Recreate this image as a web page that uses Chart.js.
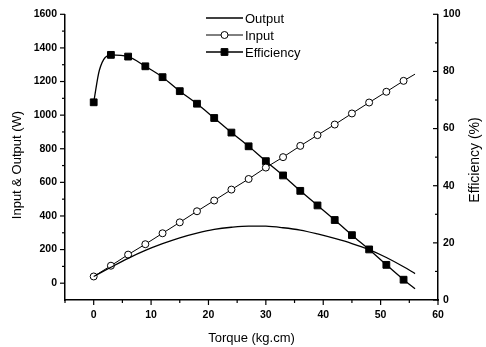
<!DOCTYPE html>
<html>
<head>
<meta charset="utf-8">
<script src="https://cdn.jsdelivr.net/npm/chart.js@4.4.1/dist/chart.umd.min.js"></script>
<style>
  html, body { margin: 0; padding: 0; background: #fff; }
  #wrap { width: 486px; height: 347px; }
</style>
</head>
<body>
<div id="wrap"><canvas id="chart" width="486" height="347"></canvas></div>
<script>
// measured points (these get markers)
const markerTorque = [0, 3, 6, 9, 12, 15, 18, 21, 24, 27, 30, 33, 36, 39, 42, 45, 48, 51, 54];

const inputTorque = [0, 3, 6, 9, 12, 15, 18, 21, 24, 27, 30, 33, 36, 39, 42, 45, 48, 51, 54, 56];
const inputW = [40, 104, 170, 232, 297, 362, 428, 492, 557, 620, 688, 750, 817, 881, 944, 1010, 1075, 1139, 1204, 1244];

const outputTorque = [0, 3, 6, 9, 12, 15, 18, 21, 24, 27, 30, 33, 36, 39, 42, 45, 48, 51, 54, 56];
const outputW = [40, 95, 148, 195, 235, 270, 298, 320, 333, 340, 339, 330, 316, 293, 266, 236, 200, 153, 98, 57];

const effTorque = [0, 1, 3, 6, 9, 12, 15, 18, 21, 24, 27, 30, 33, 36, 39, 42, 45, 48, 51, 54, 56];
const effPct = [69.2, 80.5, 85.8, 85.2, 81.8, 78.0, 73.1, 68.7, 63.7, 58.6, 53.8, 48.6, 43.6, 38.2, 33.1, 28.0, 22.7, 17.7, 12.3, 7.1, 3.9];

const xTicks = [0, 10, 20, 30, 40, 50, 60];
const xMinor = [-5, 5, 15, 25, 35, 45, 55];
const wTicks = [0, 200, 400, 600, 800, 1000, 1200, 1400, 1600];
const wMinor = [100, 300, 500, 700, 900, 1100, 1300, 1500];
const effTicks = [0, 20, 40, 60, 80, 100];
const effMinor = [10, 30, 50, 70, 90];

const FONT = "'Liberation Sans', Arial, sans-serif";
const TICK_FONT = { family: FONT, size: 10.5, weight: 'bold' };
const pts = (xs, ys) => xs.map((x, i) => ({ x, y: ys[i] }));
const marked = (r) => (c) => (markerTorque.includes(c.raw.x) ? r : 0);
const setTicks = (vals) => (scale) => { scale.ticks = vals.map((v) => ({ value: v })); };
const plain = (v) => String(v);

const frame = {
  id: 'frame',
  afterDraw(chart) {
    const { ctx, chartArea: a, scales } = chart;
    ctx.save();
    ctx.strokeStyle = '#000';
    ctx.lineWidth = 1.2;
    const line = (x1, y1, x2, y2) => { ctx.beginPath(); ctx.moveTo(x1, y1); ctx.lineTo(x2, y2); ctx.stroke(); };

    xTicks.forEach((v) => { const p = scales.x.getPixelForValue(v); line(p, a.bottom, p, a.bottom + 5); });
    xMinor.forEach((v) => { const p = scales.x.getPixelForValue(v); line(p, a.bottom, p, a.bottom + 3); });
    wTicks.forEach((v) => { const p = scales.y.getPixelForValue(v); line(a.left - 5, p, a.left, p); });
    wMinor.forEach((v) => { const p = scales.y.getPixelForValue(v); line(a.left - 3, p, a.left, p); });
    effTicks.forEach((v) => { const p = scales.eff.getPixelForValue(v); line(a.right - 5, p, a.right, p); });
    effMinor.forEach((v) => { const p = scales.eff.getPixelForValue(v); line(a.right - 3, p, a.right, p); });

    // axis titles on the y axes (both read bottom to top)
    ctx.fillStyle = '#000';
    ctx.textAlign = 'center';
    ctx.textBaseline = 'middle';
    [['Input & Output (W)', 17, 165, 13], ['Efficiency (%)', 475, 160, 14]].forEach(([t, x, y, size]) => {
      ctx.font = size + 'px ' + FONT;
      ctx.save(); ctx.translate(x, y); ctx.rotate(-Math.PI / 2); ctx.fillText(t, 0, 0); ctx.restore();
    });

    // legend
    const lx = 206, lw = 37;
    ctx.font = '13px ' + FONT;
    ctx.textAlign = 'left';
    chart.data.datasets.forEach((ds, i) => {
      const y = 18 + i * 17;
      ctx.strokeStyle = '#000';
      ctx.lineWidth = ds.borderWidth;
      line(lx, y, lx + lw, y);
      if (ds.pointStyle) {
        ctx.fillStyle = ds.pointBackgroundColor;
        ctx.lineWidth = 1;
        Chart.helpers.drawPoint(ctx, { pointStyle: ds.pointStyle, radius: ds.legendRadius, borderWidth: 1 }, lx + lw / 2, y);
      }
      ctx.fillStyle = '#000';
      ctx.fillText(ds.label, lx + lw + 2, y + 1);
    });
    ctx.restore();
  }
};

new Chart(document.getElementById('chart'), {
  type: 'line',
  data: {
    datasets: [
      {
        label: 'Output',
        data: pts(outputTorque, outputW),
        yAxisID: 'y',
        borderColor: '#000',
        borderWidth: 1.3,
        pointRadius: 0,
        cubicInterpolationMode: 'monotone',
      },
      {
        label: 'Input',
        data: pts(inputTorque, inputW),
        yAxisID: 'y',
        borderColor: '#000',
        borderWidth: 1,
        tension: 0,
        pointStyle: 'circle',
        pointRadius: marked(3.5),
        legendRadius: 3.5,
        pointBackgroundColor: '#fff',
        pointBorderColor: '#000',
        pointBorderWidth: 1,
      },
      {
        label: 'Efficiency',
        data: pts(effTorque, effPct),
        yAxisID: 'eff',
        borderColor: '#000',
        borderWidth: 1.3,
        cubicInterpolationMode: 'monotone',
        pointStyle: 'rect',
        pointRadius: marked(4.8),
        legendRadius: 4.8,
        pointBackgroundColor: '#000',
        pointBorderColor: '#000',
        pointBorderWidth: 1,
      },
    ],
  },
  options: {
    responsive: false,
    animation: false,
    layout: { padding: { top: 10, left: 0, right: 0, bottom: 0 } },
    plugins: { legend: { display: false }, tooltip: { enabled: false } },
    scales: {
      x: {
        type: 'linear',
        min: -5,
        max: 60,
        afterBuildTicks: setTicks(xTicks),
        afterFit: (s) => { s.height = 47; },
        grid: { display: false, drawTicks: false },
        border: { display: true, color: '#000', width: 1.5 },
        ticks: { color: '#000', padding: 9, maxRotation: 0, callback: plain, font: TICK_FONT },
        title: { display: true, text: 'Torque (kg.cm)', color: '#000', padding: { top: 0, bottom: 1 }, font: { family: FONT, size: 13 } },
      },
      y: {
        type: 'linear',
        position: 'left',
        min: -100,
        max: 1600,
        afterBuildTicks: setTicks(wTicks),
        afterFit: (s) => { s.width = 65; },
        grid: { display: false, drawTicks: false },
        border: { display: true, color: '#000', width: 1.5 },
        ticks: { color: '#000', padding: 8, callback: plain, font: TICK_FONT },
      },
      eff: {
        type: 'linear',
        position: 'right',
        min: 0,
        max: 100,
        afterBuildTicks: setTicks(effTicks),
        afterFit: (s) => { s.width = 48; },
        grid: { display: false, drawTicks: false },
        border: { display: true, color: '#000', width: 1.5 },
        ticks: { color: '#000', padding: 5, callback: plain, font: TICK_FONT },
      },
    },
  },
  plugins: [frame],
});
</script>
</body>
</html>
